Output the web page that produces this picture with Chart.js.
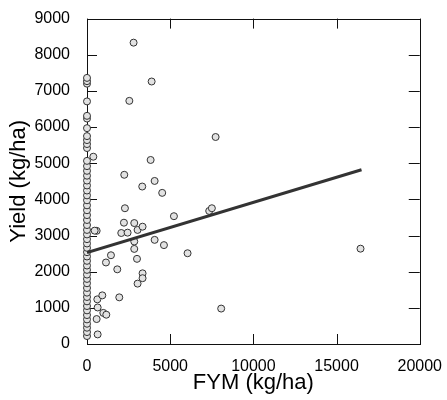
<!DOCTYPE html>
<html>
<head>
<meta charset="utf-8">
<script src="https://cdn.jsdelivr.net/npm/chart.js@4/dist/chart.umd.min.js"></script>
<style>
  html, body { margin: 0; padding: 0; background: #fff; }
  #wrap { width: 447px; height: 400px; }
</style>
</head>
<body>
<div id="wrap"><canvas id="chart" width="447" height="400"></canvas></div>
<script>
// farms with no FYM applied (x = 0)
const zeroYields = [220, 330, 450, 560, 680, 800, 930, 1050, 1180, 1300, 1420, 1550, 1680,
    1800, 1920, 2050, 2170, 2300, 2420, 2540, 2660, 2780, 2900, 3030, 3155, 3290, 3430,
    3565, 3700, 3835, 3975, 4110, 4245, 4385, 4520, 4655, 4790, 4920, 5065, 5420, 5530,
    5640, 5750, 5970, 6235, 6310, 6710, 7200, 7270, 7360];

// farms with FYM applied
const fymApplied = [380, 580, 460, 620, 640, 580, 640, 920, 980, 1160, 1140, 1440, 1820,
    1940, 2060, 2220, 2240, 2280, 2440, 2545, 2800, 2840, 2840, 2840, 3005, 3040, 3040,
    3320, 3340, 3340, 3340, 3825, 3885, 4065, 4065, 4520, 4625, 5225, 6045, 7345, 7505,
    7730, 8065, 16440];
const fymYields = [5180, 3130, 3135, 1235, 1010, 690, 265, 1345, 860, 810, 2255, 2455, 2065,
    1290, 3070, 3355, 4680, 3755, 3080, 6725, 8335, 3345, 2835, 2630, 2355, 3155, 1670,
    4355, 3245, 1955, 1820, 5090, 7260, 4510, 2880, 4180, 2735, 3535, 2510, 3680, 3755,
    5725, 980, 2637];

// fitted regression line
const lineX = [0, 16500];
const lineY = [2530, 4820];

const xTicks = [0, 5000, 10000, 15000, 20000];
const yTicks = [0, 1000, 2000, 3000, 4000, 5000, 6000, 7000, 8000, 9000];

const points = zeroYields.map(y => ({ x: 0, y }))
    .concat(fymApplied.map((x, i) => ({ x, y: fymYields[i] })));
const fitLine = lineX.map((x, i) => ({ x, y: lineY[i] }));

const font = "'Liberation Sans', Arial, sans-serif";

// draws the box and inward tick marks on all four sides, under the marks
const frame = {
    id: "frame",
    beforeDatasetsDraw(chart) {
        const { ctx, chartArea: a, scales } = chart;
        ctx.save();
        ctx.strokeStyle = "#111";
        ctx.lineWidth = 1;
        ctx.beginPath();
        scales.x.ticks.forEach(t => {
            const px = Math.round(scales.x.getPixelForValue(t.value)) + 0.5;
            ctx.moveTo(px, a.bottom); ctx.lineTo(px, a.bottom - 10);
            ctx.moveTo(px, a.top); ctx.lineTo(px, a.top + 10);
        });
        scales.y.ticks.forEach(t => {
            const py = Math.round(scales.y.getPixelForValue(t.value)) + 0.5;
            ctx.moveTo(a.left, py); ctx.lineTo(a.left + 10, py);
            ctx.moveTo(a.right, py); ctx.lineTo(a.right - 11, py);
        });
        ctx.stroke();
        ctx.strokeRect(Math.round(a.left) + 0.5, Math.round(a.top) + 0.5,
            Math.round(a.right - a.left), Math.round(a.bottom - a.top));
        ctx.restore();
    }
};

new Chart(document.getElementById("chart"), {
    type: "scatter",
    data: {
        datasets: [
            {
                type: "line",
                data: fitLine,
                borderColor: "#333333",
                borderWidth: 3,
                pointRadius: 0,
                fill: false,
                order: 0
            },
            {
                data: points,
                clip: false,
                pointRadius: 3.5,
                pointBackgroundColor: "#e2e2e2",
                pointBorderColor: "#333333",
                pointBorderWidth: 1,
                order: 1
            }
        ]
    },
    options: {
        responsive: false,
        animation: false,
        events: [],
        layout: { padding: { top: 14, right: 27, left: 0, bottom: 0 } },
        plugins: { legend: { display: false }, tooltip: { enabled: false } },
        scales: {
            x: {
                type: "linear",
                min: 0,
                max: 20000,
                afterBuildTicks: s => { s.ticks = xTicks.map(value => ({ value })); },
                afterFit: s => { s.height = 56; },
                grid: { display: false },
                border: { display: false },
                ticks: {
                    color: "#000", padding: 5, maxRotation: 0,
                    font: { family: font, size: 16 },
                    callback: v => String(v)
                },
                title: {
                    display: true,
                    text: "FYM (kg/ha)",
                    color: "#000",
                    font: { family: font, size: 22 },
                    padding: { top: 0, bottom: 4 }
                }
            },
            y: {
                type: "linear",
                min: 0,
                max: 9000,
                afterBuildTicks: s => { s.ticks = yTicks.map(value => ({ value })); },
                afterFit: s => { s.width = 87; },
                grid: { display: false },
                border: { display: false },
                ticks: {
                    color: "#000", padding: 9,
                    font: { family: font, size: 16 },
                    callback: v => String(v)
                },
                title: {
                    display: true,
                    text: "Yield (kg/ha)",
                    color: "#000",
                    font: { family: font, size: 22 },
                    padding: { top: 6, bottom: 0 }
                }
            }
        }
    },
    plugins: [frame]
});
</script>
</body>
</html>
